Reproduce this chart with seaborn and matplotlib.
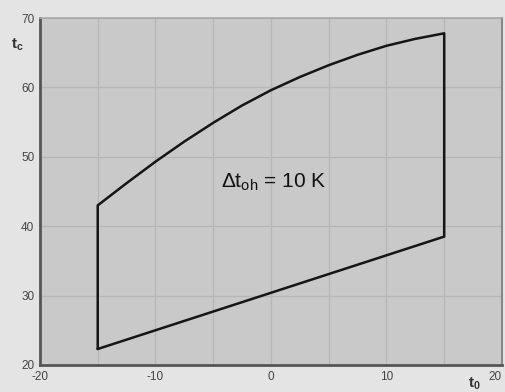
import pandas as pd
import matplotlib.pyplot as plt
import seaborn as sns

# Randkurve (Einsatzgrenze), im Uhrzeigersinn gelesen
t0_oben = [-15, -12.5, -10, -7.5, -5, -2.5, 0, 2.5, 5, 7.5, 10, 12.5, 15]
tc_oben = [43.0, 46.2, 49.3, 52.2, 54.9, 57.4, 59.6, 61.5, 63.2, 64.7, 66.0, 67.0, 67.8]
t0_unten = [15, -15]
tc_unten = [38.5, 22.3]

x_ticks = [-20, -10, 0, 10, 20]
y_ticks = [20, 30, 40, 50, 60, 70]

# geschlossener Linienzug: links hoch, oben entlang, rechts runter, unten zurück
t0 = [-15] + t0_oben + t0_unten
tc = [22.3] + tc_oben + tc_unten
df = pd.DataFrame({"t0": t0, "tc": tc})

sns.set_style("white")
plt.rcParams["font.family"] = ["Liberation Sans", "DejaVu Sans"]
plt.rcParams["mathtext.fontset"] = "custom"
plt.rcParams["mathtext.rm"] = "Liberation Sans"
plt.rcParams["mathtext.bf"] = "Liberation Sans:bold"

fig = plt.figure(figsize=(5.06, 3.92), dpi=100, facecolor="#e4e4e4")
ax = fig.add_axes([0.079, 0.069, 0.913, 0.885])
ax.set_facecolor("#c9c9c9")

sns.lineplot(data=df, x="t0", y="tc", sort=False, estimator=None,
             color="#151515", linewidth=1.8, ax=ax)

ax.set_xlim(-20, 20)
ax.set_ylim(20, 70)
ax.set_xticks(range(-20, 21, 5))
ax.set_xticklabels([str(v) if v in x_ticks else "" for v in range(-20, 21, 5)])
ax.set_yticks(y_ticks)
ax.grid(True, color="#b6b6b6", linewidth=0.9)
ax.set_axisbelow(True)
ax.tick_params(length=0, labelsize=8.5, labelcolor="#444444", pad=4)
ax.get_xticklabels()[-1].set_horizontalalignment("right")
ax.set_xlabel("")
ax.set_ylabel("")

for side in ["left", "bottom"]:
    ax.spines[side].set_color("#555555")
    ax.spines[side].set_linewidth(2.0)
ax.spines["top"].set_color("#a8a8a8")
ax.spines["top"].set_linewidth(1.2)
ax.spines["right"].set_color("#888888")
ax.spines["right"].set_linewidth(1.5)

ax.text(-4.3, 46.3, r"Δt$_{\mathrm{oh}}$ = 10 K", fontsize=15,
        color="#111111", va="center", ha="left")

fig.text(0.022, 0.885, r"t$_{\mathbf{c}}$", fontsize=11, fontweight="bold",
         color="#333333", ha="left", va="center")
fig.text(0.925, 0.022, r"t$_{\mathbf{0}}$", fontsize=11, fontweight="bold",
         color="#333333", ha="left", va="center")

fig.savefig("out.png", dpi=100, facecolor=fig.get_facecolor())
